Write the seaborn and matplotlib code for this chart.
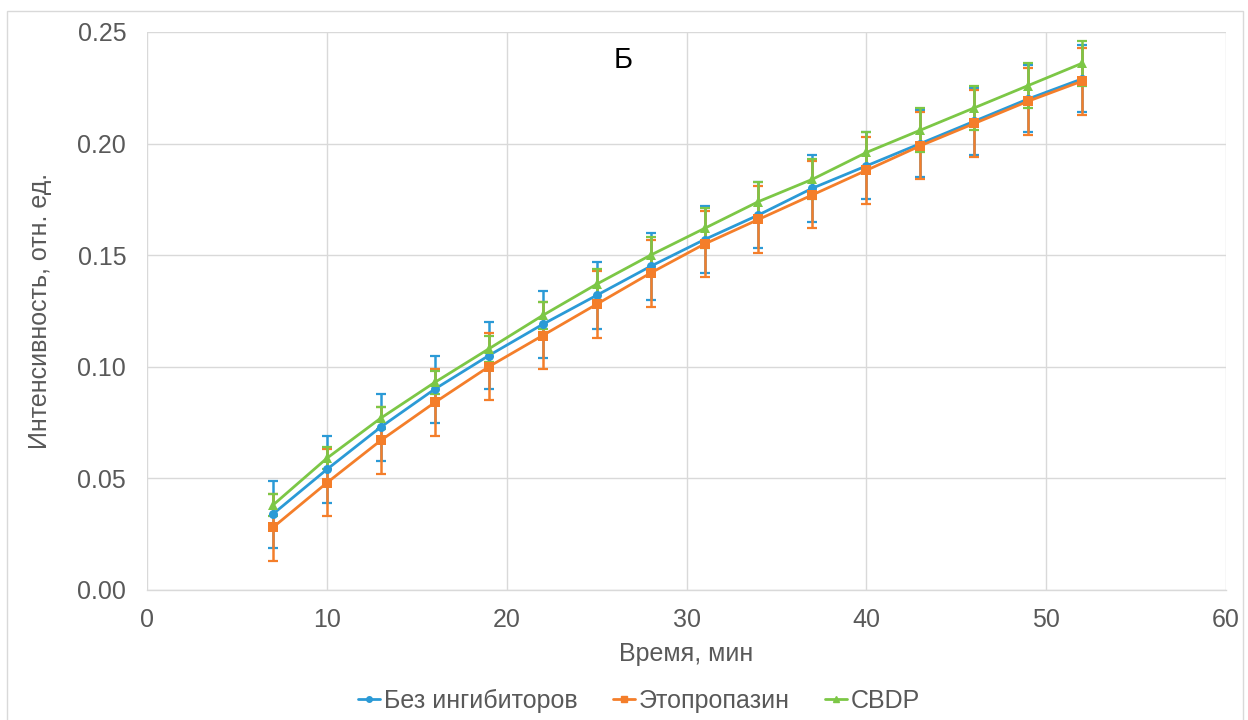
import numpy as np
import pandas as pd
import matplotlib
matplotlib.use("Agg")
import matplotlib.pyplot as plt
from matplotlib.lines import Line2D
import seaborn as sns

# Time points, min
time_min = [7, 10, 13, 16, 19, 22, 25, 28, 31, 34, 37, 40, 43, 46, 49, 52]

# Mean intensity, rel. units
no_inhib = [0.034, 0.054, 0.073, 0.090, 0.105, 0.119, 0.132, 0.145,
            0.157, 0.168, 0.180, 0.190, 0.200, 0.210, 0.220, 0.229]
etoprop = [0.028, 0.048, 0.067, 0.084, 0.100, 0.114, 0.128, 0.142,
           0.155, 0.166, 0.177, 0.188, 0.199, 0.209, 0.219, 0.228]
cbdp = [0.038, 0.059, 0.077, 0.093, 0.108, 0.123, 0.137, 0.150,
        0.162, 0.174, 0.184, 0.196, 0.206, 0.216, 0.226, 0.236]

# Error bar half-widths
no_inhib_err = [0.015] * 16
etoprop_err = [0.015] * 16
cbdp_err = [0.005, 0.005, 0.005, 0.005, 0.006, 0.006, 0.007, 0.008,
            0.009, 0.009, 0.009, 0.009, 0.010, 0.010, 0.010, 0.010]

series_names = ["Без ингибиторов", "Этопропазин", "CBDP"]
colors = ["#2B9AD6", "#F47E2A", "#7CC746"]
markers = ["o", "s", "^"]

sns.set_theme(style="white")
plt.rcParams["font.family"] = ["Liberation Sans", "DejaVu Sans"]

df = pd.DataFrame({
    "t": time_min * 3,
    "y": no_inhib + etoprop + cbdp,
    "series": [series_names[0]] * 16 + [series_names[1]] * 16 + [series_names[2]] * 16,
})

fig = plt.figure(figsize=(12.48, 7.2), dpi=100)
ax = fig.add_axes([0.1178, 0.1806, 0.8646, 0.775])

# error bars drawn underneath the lines
for vals, errs, c in zip([no_inhib, etoprop, cbdp],
                         [no_inhib_err, etoprop_err, cbdp_err], colors):
    ax.errorbar(time_min, vals, yerr=errs, fmt="none", ecolor=c,
                elinewidth=1.8, capsize=3.5, capthick=1.6, zorder=2)

sns.lineplot(data=df, x="t", y="y", hue="series", style="series",
             palette=dict(zip(series_names, colors)),
             markers=dict(zip(series_names, markers)),
             dashes=False, linewidth=2.0, markersize=6.5,
             markeredgewidth=0, ax=ax, zorder=3, legend=False)

ax.set_xlim(0, 60)
ax.set_ylim(0, 0.25)
ax.set_xticks(np.arange(0, 61, 10))
ax.set_yticks(np.arange(0, 0.251, 0.05))
ax.set_yticklabels([f"{v:.2f}" for v in np.arange(0, 0.251, 0.05)])
ax.grid(True, color="#D9D9D9", linewidth=1.0)
ax.set_axisbelow(True)
for side in ["top", "right", "left"]:
    ax.spines[side].set_visible(False)
ax.spines["bottom"].set_color("#D9D9D9")
ax.spines["bottom"].set_linewidth(1.0)

ax.tick_params(axis="y", labelsize=18, labelcolor="#595959", length=0, pad=15)
ax.tick_params(axis="x", labelsize=18, labelcolor="#595959", length=0, pad=13)
ax.set_xlabel("Время, мин", fontsize=18, color="#595959", labelpad=7)
ax.set_ylabel("Интенсивность, отн. ед.", fontsize=18, color="#595959", labelpad=18)

ax.text(26.5, 0.2375, "Б", fontsize=21, color="black", ha="center", va="center")

handles = [Line2D([0], [0], color=c, marker=m, markersize=4, linewidth=2)
           for c, m in zip(colors, markers)]
fig.legend(handles, series_names, loc="center", bbox_to_anchor=(0.512, 0.027),
           ncol=3, frameon=False, fontsize=18, handlelength=0.9,
           handletextpad=0.15, columnspacing=1.4, labelcolor="#595959")

# thin frame around the chart area
fig.patches.append(plt.Rectangle((0.006, -0.01), 0.99, 0.995, transform=fig.transFigure,
                                 fill=False, edgecolor="#D9D9D9", linewidth=1.0))

fig.savefig("out.png", dpi=100)
